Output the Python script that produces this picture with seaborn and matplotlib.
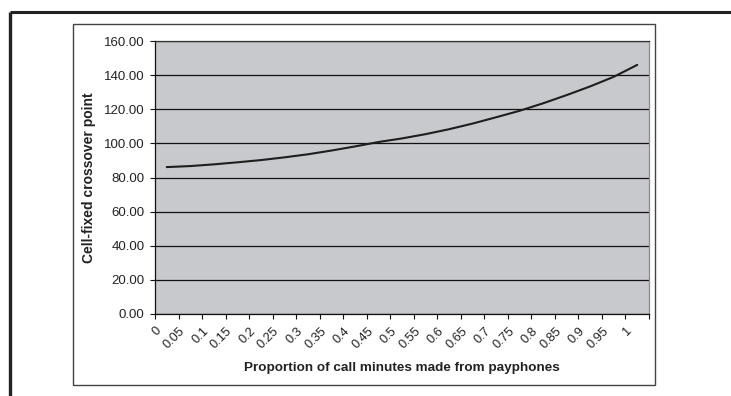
import numpy as np
import pandas as pd
import matplotlib
matplotlib.use("Agg")
import matplotlib.pyplot as plt
import matplotlib.transforms as mtransforms
import seaborn as sns
from matplotlib.lines import Line2D
from matplotlib.patches import Rectangle

# proportion of call minutes (category labels) and crossover values
proportions = ["0", "0.05", "0.1", "0.15", "0.2", "0.25", "0.3", "0.35", "0.4", "0.45", "0.5",
               "0.55", "0.6", "0.65", "0.7", "0.75", "0.8", "0.85", "0.9", "0.95", "1"]
crossover = [86.1, 86.7, 87.7, 88.9, 90.2, 91.8, 93.6, 95.8, 98.2, 100.8, 102.9,
             105.4, 108.3, 111.6, 115.3, 119.1, 123.5, 128.3, 133.4, 139.0, 146.0]
y_ticks = [0, 20, 40, 60, 80, 100, 120, 140, 160]

df = pd.DataFrame({"proportion": proportions, "crossover": crossover})

sns.set_theme(style="white")
plt.rcParams["font.family"] = ["Liberation Sans", "DejaVu Sans"]

W, H = 731, 396
fig = plt.figure(figsize=(W / 100, H / 100), dpi=100)

# outer frame (only left and top edges visible)
fig.add_artist(Line2D([10 / W, 10 / W], [0, 1 - 12 / H], color="#222222", lw=2.4,
                      transform=fig.transFigure, solid_capstyle="butt"))
fig.add_artist(Line2D([10 / W, 1], [1 - 12 / H, 1 - 12 / H], color="#222222", lw=2.2,
                      transform=fig.transFigure, solid_capstyle="butt"))
# chart box
fig.add_artist(Rectangle((73 / W, 1 - 385 / H), (655 - 73) / W, (385 - 24) / H,
                         fill=False, ec="#444444", lw=1.0, transform=fig.transFigure))

ax = fig.add_axes([155 / W, 1 - 314 / H, (649 - 155) / W, (314 - 41) / H])
ax.set_facecolor("#C8C9CD")

sns.lineplot(data=df, x="proportion", y="crossover", sort=False, color="#1e1e1e",
             lw=1.5, ax=ax)

ax.set_xlim(-0.5, len(proportions) - 0.5)
ax.set_ylim(0, 160)
ax.set_yticks(y_ticks)
ax.set_yticklabels([f"{v:.2f}" for v in y_ticks], fontsize=9.5, color="#222222")
ax.grid(axis="y", color="#111111", lw=0.9)
ax.set_axisbelow(True)

ax.set_xticks(range(len(proportions)))
ax.set_xticklabels(proportions, rotation=45, ha="right", va="center",
                   rotation_mode="anchor", fontsize=9.2, color="#222222")
ax.tick_params(axis="x", which="major", length=0, pad=11)
shift = mtransforms.ScaledTranslation(-7 / 100, 0, fig.dpi_scale_trans)
for lab in ax.get_xticklabels():
    lab.set_transform(lab.get_transform() + shift)
ax.set_xticks(np.arange(-0.5, len(proportions), 1), minor=True)
ax.tick_params(axis="x", which="minor", length=3.5, width=0.8, color="#111111", bottom=True)
ax.tick_params(axis="y", length=3.5, width=0.8, color="#111111", left=True, pad=4)

for side in ["left", "bottom"]:
    ax.spines[side].set_color("#111111")
    ax.spines[side].set_linewidth(0.9)
ax.spines["top"].set_color("#333333")
ax.spines["top"].set_linewidth(0.9)
ax.spines["right"].set_color("#8a8a8a")
ax.spines["right"].set_linewidth(0.9)

ax.set_xlabel("Proportion of call minutes made from payphones", fontsize=9.7,
              fontweight="bold", color="#222222", labelpad=8)
ax.set_ylabel("Cell-fixed crossover point", fontsize=10, fontweight="bold",
              color="#222222", labelpad=6)

fig.savefig("out.png", dpi=100)
